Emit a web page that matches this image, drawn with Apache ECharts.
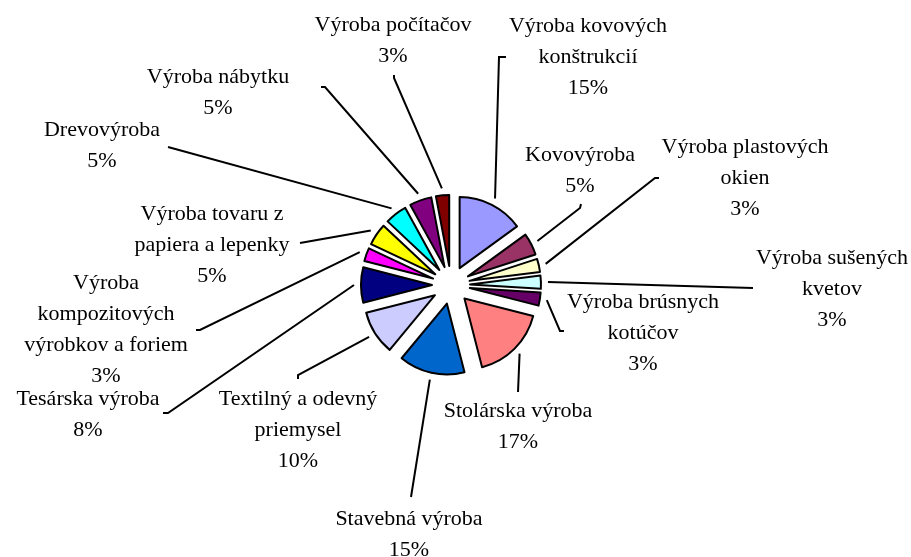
<!DOCTYPE html>
<html>
<head>
<meta charset="utf-8">
<script src="https://cdn.jsdelivr.net/npm/echarts@6/dist/echarts.min.js"></script>
<style>
    html, body { margin: 0; background: #fff; }
    #chart { width: 911px; height: 557px; }
</style>
</head>
<body>
<div id="chart"></div>
<script>
    // data
    var categories = [
        'Výroba kovových\nkonštrukcií',
        'Kovovýroba',
        'Výroba plastových\nokien',
        'Výroba sušených\nkvetov',
        'Výroba brúsnych\nkotúčov',
        'Stolárska výroba',
        'Stavebná výroba',
        'Textilný a odevný\npriemysel',
        'Tesárska výroba',
        'Výroba\nkompozitových\nvýrobkov a foriem',
        'Výroba tovaru z\npapiera a lepenky',
        'Drevovýroba',
        'Výroba nábytku',
        'Výroba počítačov'
    ];
    var shares = [15, 5, 3, 3, 3, 17, 15, 10, 8, 3, 5, 5, 5, 3];
    var colors = ['#9999FF', '#993366', '#FFFFCC', '#CCFFFF', '#660066', '#FF8080', '#0066CC',
        '#CCCCFF', '#000080', '#FF00FF', '#FFFF00', '#00FFFF', '#800080', '#800000'];

    // label placement (centre of the text block) and leader line bends
    var labelCenters = [
        [588, 57], [580, 171], [745, 178], [832, 289], [643, 333], [518, 427], [409, 535],
        [298, 430], [88, 415], [106, 330], [212, 245], [102, 146], [218, 93], [393, 41]
    ];
    var leaderBends = [
        [[499, 57], [506, 57]],
        [[580, 208], [581, 204]],
        [[655, 178], [659, 178]],
        [[753, 288]],
        [[560, 331], [564, 331]],
        [[518, 392]],
        [[411, 497]],
        [[298, 375], [298, 379]],
        [[168, 413], [163, 413]],
        [[200, 330], [196, 330]],
        [[300, 243]],
        [[168, 147]],
        [[325, 87], [321, 87]],
        [[394, 78], [394, 75]]
    ];

    var CX = 451, CY = 285, R = 71, EXPLODE = 19;
    var total = shares.reduce(function (s, v) { return s + v; }, 0);

    // exploded pie: one series per slice, shifted out along the slice's middle angle
    var series = [];
    var cum = 0;
    shares.forEach(function (v, k) {
        var mid = (cum + v / 2) / total * 2 * Math.PI;
        cum += v;
        var data = categories.map(function (name, i) {
            var own = i === k;
            return {
                name: name,
                value: shares[i],
                itemStyle: own
                    ? { color: colors[i], borderColor: '#000', borderWidth: 2 }
                    : { color: 'rgba(0,0,0,0)', borderWidth: 0 },
                label: { show: own },
                labelLine: { show: own }
            };
        });
        series.push({
            type: 'pie',
            silent: true,
            center: [CX + EXPLODE * Math.sin(mid), CY - EXPLODE * Math.cos(mid)],
            radius: R,
            startAngle: 90,
            clockwise: true,
            avoidLabelOverlap: false,
            label: {
                position: 'outside',
                formatter: '{b}\n{c}%',
                fontFamily: 'Liberation Serif',
                fontSize: 22,
                lineHeight: 31,
                color: '#000'
            },
            labelLine: {
                lineStyle: { color: '#000', width: 2 }
            },
            labelLayout: function (p) {
                var i = p.dataIndex;
                if (i !== k) return {};
                var a = p.labelLinePoints;
                var pts;
                if (a) {
                    // start a little outside the slice edge, like the original
                    var dx = a[1][0] - a[0][0], dy = a[1][1] - a[0][1];
                    var len = Math.sqrt(dx * dx + dy * dy) || 1;
                    pts = [[a[0][0] + dx / len * 7, a[0][1] + dy / len * 7]].concat(leaderBends[i]);
                }
                return {
                    x: labelCenters[i][0],
                    y: labelCenters[i][1],
                    align: 'center',
                    verticalAlign: 'middle',
                    labelLinePoints: pts
                };
            },
            data: data
        });
    });

    var chart = echarts.init(document.getElementById('chart'));
    chart.setOption({
        backgroundColor: '#fff',
        animation: false,
        series: series
    });
</script>
</body>
</html>
